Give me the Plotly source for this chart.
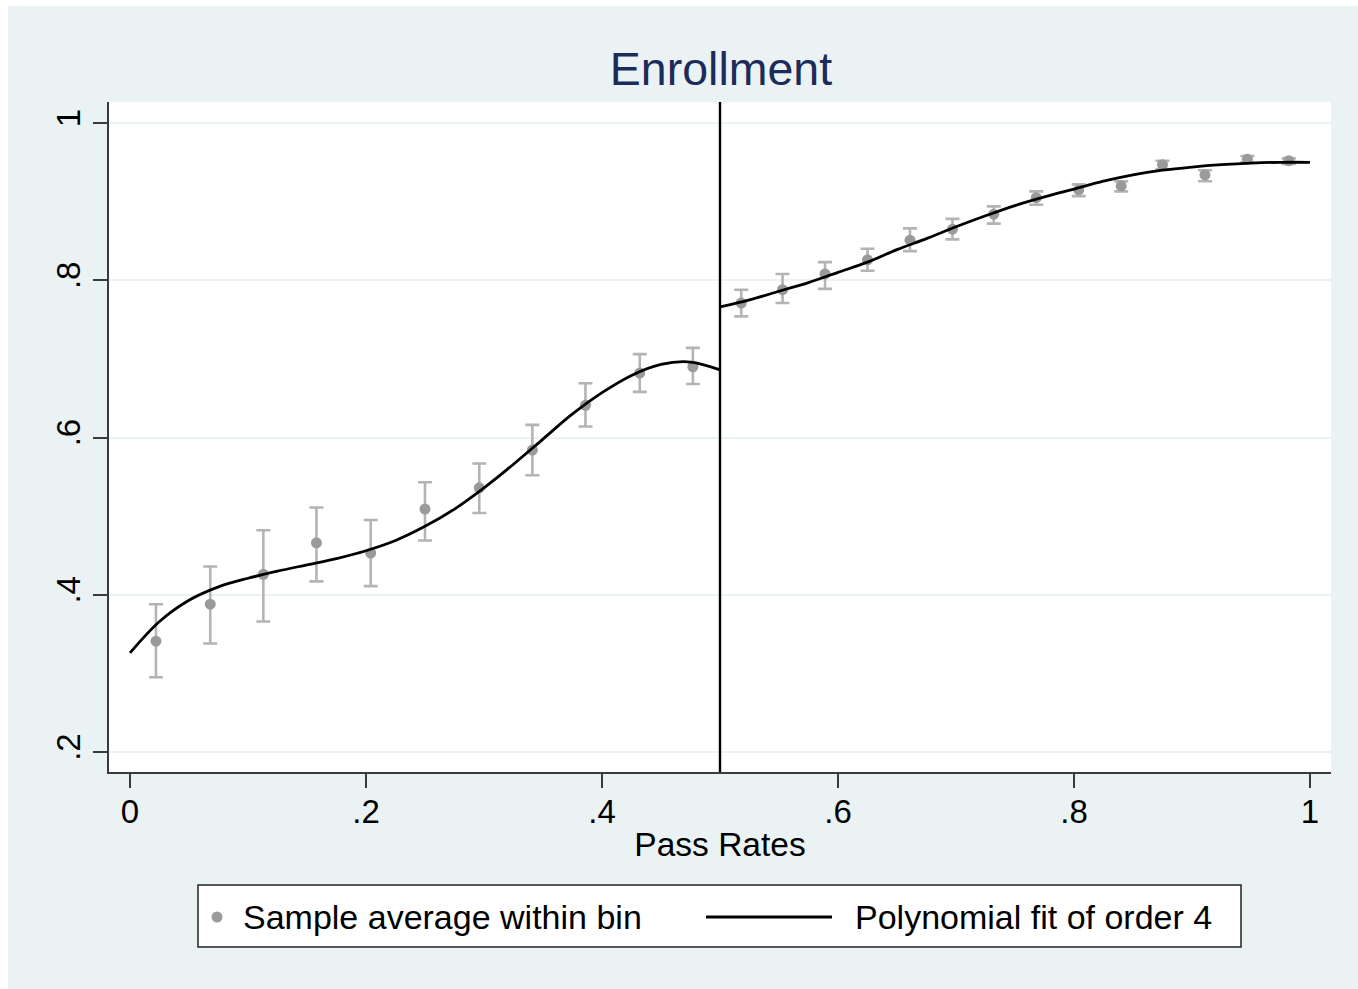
import plotly.graph_objects as go

# Binned sample averages with 95% confidence bounds
bin_x = [0.022, 0.068, 0.113, 0.158, 0.204, 0.250, 0.296, 0.341, 0.386, 0.432, 0.477,
         0.518, 0.553, 0.589, 0.625, 0.661, 0.697, 0.732, 0.768, 0.804, 0.840,
         0.875, 0.911, 0.947, 0.982]
bin_mean = [0.341, 0.388, 0.426, 0.466, 0.453, 0.509, 0.536, 0.584, 0.641, 0.682, 0.690,
            0.771, 0.788, 0.808, 0.826, 0.851, 0.865, 0.884, 0.905, 0.915, 0.920,
            0.947, 0.934, 0.954, 0.952]
ci_high = [0.388, 0.436, 0.482, 0.511, 0.495, 0.543, 0.567, 0.616, 0.669, 0.706, 0.714,
           0.788, 0.808, 0.823, 0.840, 0.866, 0.878, 0.894, 0.913, 0.922, 0.926,
           0.952, 0.940, 0.958, 0.955]
ci_low = [0.295, 0.338, 0.366, 0.417, 0.411, 0.469, 0.504, 0.552, 0.614, 0.658, 0.668,
          0.754, 0.771, 0.789, 0.812, 0.837, 0.852, 0.872, 0.896, 0.907, 0.913,
          0.941, 0.926, 0.950, 0.948]

# Fourth-order polynomial fits on each side of the cutoff
fit_x_left = [0.000, 0.025, 0.050, 0.075, 0.100, 0.125, 0.150, 0.175, 0.200, 0.225, 0.250,
              0.275, 0.300, 0.325, 0.350, 0.375, 0.400, 0.425, 0.450, 0.475, 0.500]
fit_y_left = [0.326, 0.366, 0.393, 0.410, 0.421, 0.430, 0.438, 0.446, 0.456, 0.469, 0.487,
              0.509, 0.536, 0.566, 0.598, 0.630, 0.657, 0.679, 0.693, 0.696, 0.686]
fit_x_right = [0.500, 0.525, 0.550, 0.575, 0.600, 0.625, 0.650, 0.675, 0.700, 0.725, 0.750,
               0.775, 0.800, 0.825, 0.850, 0.875, 0.900, 0.925, 0.950, 0.975, 1.000]
fit_y_right = [0.766, 0.775, 0.786, 0.797, 0.810, 0.823, 0.839, 0.853, 0.868, 0.882, 0.895,
               0.906, 0.916, 0.926, 0.934, 0.940, 0.944, 0.947, 0.949, 0.950, 0.950]

cutoff = 0.5
x_ticks = [0, 0.2, 0.4, 0.6, 0.8, 1]
x_tick_text = ["0", ".2", ".4", ".6", ".8", "1"]
y_ticks = [0.2, 0.4, 0.6, 0.8, 1]
y_tick_text = [".2", ".4", ".6", ".8", "1"]

BG = "#EAF2F3"
AXIS = "#3A3A3A"
FONT = "Liberation Sans, Arial, sans-serif"
W, H = 1358, 989
ML, MR, MT, MB = 109, 27, 102, 217
PW, PH = W - ML - MR, H - MT - MB


def px_x(p):
    return (p - ML) / PW


def px_y(p):
    return (H - MB - p) / PH


fig = go.Figure()

fig.add_trace(go.Scatter(
    x=bin_x, y=bin_mean, mode="markers",
    marker=dict(color="#9A9A9A", size=11),
    error_y=dict(type="data", symmetric=False,
                 array=[h - m for h, m in zip(ci_high, bin_mean)],
                 arrayminus=[m - l for m, l in zip(bin_mean, ci_low)],
                 color="#B4B4B4", thickness=2.6, width=7),
    showlegend=False,
))
for fx, fy in ((fit_x_left, fit_y_left), (fit_x_right, fit_y_right)):
    fig.add_trace(go.Scatter(
        x=fx, y=fy, mode="lines", line=dict(color="black", width=2.8, shape="spline"),
        showlegend=False,
    ))

shapes = [
    # cutoff line
    dict(type="line", xref="x", yref="paper", x0=cutoff, x1=cutoff, y0=0, y1=1,
         line=dict(color="black", width=2.4)),
    # white margin strips at the top and left edges
    dict(type="rect", xref="paper", yref="paper", x0=px_x(0), x1=px_x(8),
         y0=px_y(H), y1=px_y(0), fillcolor="white", line_width=0),
    dict(type="rect", xref="paper", yref="paper", x0=px_x(0), x1=px_x(W),
         y0=px_y(6), y1=px_y(0), fillcolor="white", line_width=0),
    # legend box
    dict(type="rect", xref="paper", yref="paper", x0=px_x(198), x1=px_x(1241),
         y0=px_y(947), y1=px_y(885), fillcolor="white", line=dict(color="#222222", width=1.5)),
    dict(type="circle", xref="paper", yref="paper", x0=px_x(211.5), x1=px_x(222.5),
         y0=px_y(922.5), y1=px_y(911.5), fillcolor="#9A9A9A", line_width=0),
    dict(type="line", xref="paper", yref="paper", x0=px_x(706), x1=px_x(832),
         y0=px_y(917), y1=px_y(917), line=dict(color="black", width=2.8)),
]

annotations = [
    dict(text="Sample average within bin", xref="paper", yref="paper", x=px_x(241), y=px_y(917),
         xanchor="left", yanchor="middle", showarrow=False, font=dict(size=34, color="black", family=FONT)),
    dict(text="Polynomial fit of order 4", xref="paper", yref="paper", x=px_x(853), y=px_y(917),
         xanchor="left", yanchor="middle", showarrow=False, font=dict(size=34, color="black", family=FONT)),
]

fig.update_layout(
    width=W, height=H,
    margin=dict(l=ML, r=MR, t=MT, b=MB),
    paper_bgcolor=BG, plot_bgcolor="white",
    font=dict(family=FONT, color="black", size=33),
    title=dict(text="Enrollment", x=721 / W, xref="container", xanchor="center",
               y=1 - 69 / H, yref="container", yanchor="middle",
               font=dict(size=46.5, color="#1C2B5A", family=FONT)),
    shapes=shapes, annotations=annotations,
    showlegend=False,
)

fig.update_xaxes(
    range=[-0.0178, 1.0178], tickvals=x_ticks, ticktext=x_tick_text,
    showgrid=False, zeroline=False, showline=True, linecolor=AXIS, linewidth=2,
    ticks="outside", ticklen=14, tickwidth=1.5, tickcolor=AXIS,
    tickfont=dict(size=33, color="black"), ticklabelstandoff=-5,
    title=dict(text="Pass Rates", font=dict(size=33.5, color="black"), standoff=4),
)
fig.update_yaxes(
    range=[0.17456, 1.02671], tickvals=y_ticks, ticktext=y_tick_text, tickangle=-90,
    showgrid=True, gridcolor=BG, gridwidth=2, zeroline=False,
    showline=True, linecolor=AXIS, linewidth=2,
    ticks="outside", ticklen=14, tickwidth=1.5, tickcolor=AXIS,
    tickfont=dict(size=33, color="black"),
)

fig.write_html("out.html")
